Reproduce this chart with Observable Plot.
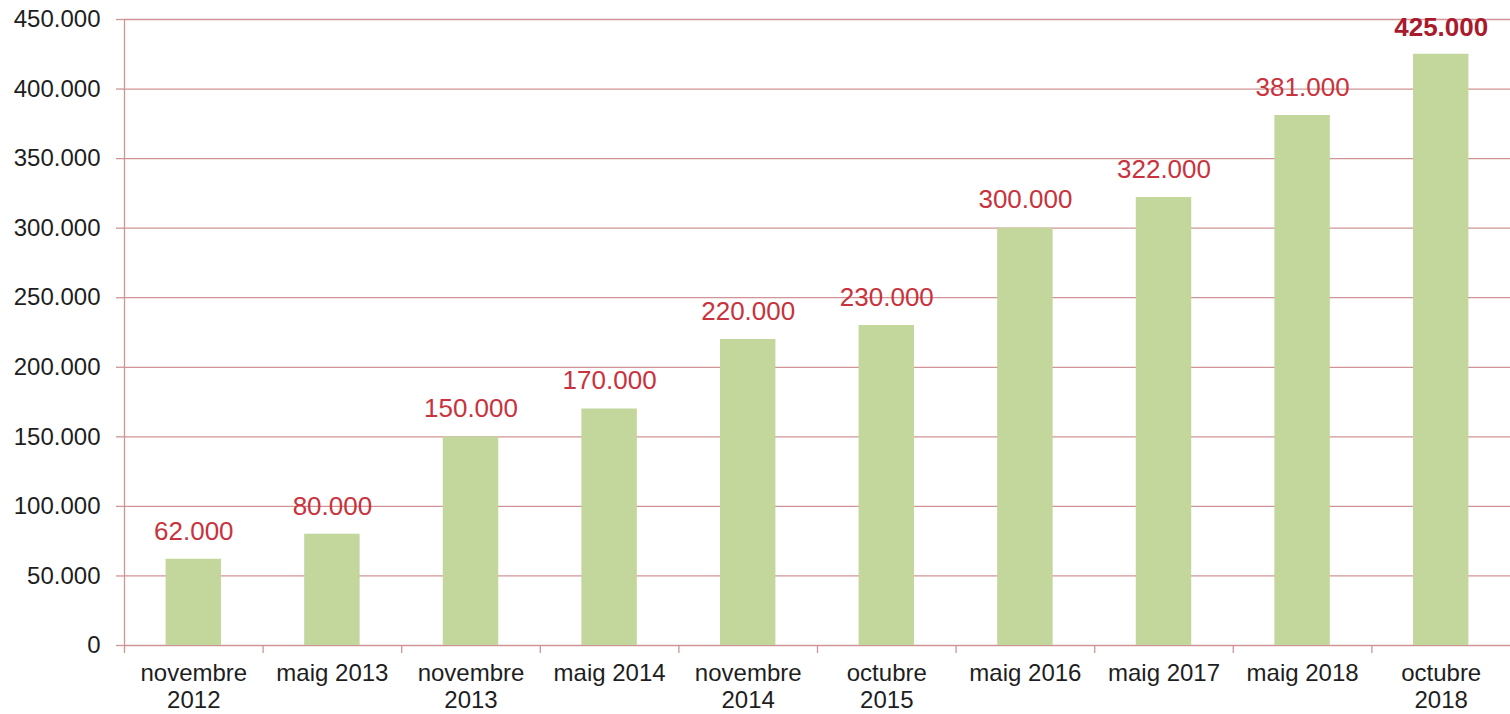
<!DOCTYPE html>
<html>
<head>
<meta charset="utf-8">
<script src="https://cdn.jsdelivr.net/npm/d3@7"></script>
<script src="https://cdn.jsdelivr.net/npm/@observablehq/plot@0.6"></script>
<style>
  html, body { margin: 0; padding: 0; background: #fff; }
  #chart svg { display: block; }
</style>
</head>
<body>
<div id="chart"></div>
<script>
const categories = ["novembre\n2012", "maig 2013", "novembre\n2013", "maig 2014", "novembre\n2014", "octubre\n2015", "maig 2016", "maig 2017", "maig 2018", "octubre\n2018"];
const values = [62000, 80000, 150000, 170000, 220000, 230000, 300000, 322000, 381000, 425000];
const yTicks = [0, 50000, 100000, 150000, 200000, 250000, 300000, 350000, 400000, 450000];

const data = categories.map((c, i) => ({cat: c, value: values[i], last: i === categories.length - 1}));
const loc = d3.formatLocale({decimal: ",", thousands: ".", grouping: [3], currency: ["", ""]});
const fmt = loc.format(",");

const width = 1510, height = 714;
const marginLeft = 124, marginRight = 0;
const half = (width - marginLeft - marginRight) / categories.length / 2;
const gridColor = "#d09496";
const font = "'Liberation Sans', Arial, sans-serif";

const chart = Plot.plot({
  width, height,
  marginLeft, marginRight, marginTop: 19, marginBottom: 69,
  style: {fontFamily: font, background: "#fff"},
  x: {domain: categories, paddingInner: 0.6, paddingOuter: 0.3, align: 0.5, round: false, label: null},
  y: {domain: [0, 450000], label: null},
  marks: [
    Plot.ruleY(yTicks, {stroke: gridColor, strokeWidth: 1.3}),
    Plot.axisY({ticks: yTicks, tickSize: 8, tickPadding: 16, tickFormat: fmt, stroke: gridColor, strokeWidth: 1.3, fontSize: 24, fill: "#1e1e1e", label: null}),
    Plot.ruleX([categories[0]], {dx: -half, y1: 0, y2: 450000, stroke: gridColor, strokeWidth: 1.3}),
    Plot.axisX({ticks: categories, tickSize: 8, tickFormat: () => "", dx: -half, stroke: gridColor, strokeWidth: 1.3, label: null}),
    Plot.axisX({ticks: categories, tickSize: 0, tickPadding: 17, fontSize: 24, fill: "#1e1e1e", lineHeight: 1.1, label: null}),
    Plot.barY(data, {x: "cat", y: "value", fill: "#c3d69b"}),
    Plot.text(data.filter(d => !d.last), {x: "cat", y: "value", text: d => fmt(d.value), dy: -28, fontSize: 26, fill: "#c8333d"}),
    Plot.text(data.filter(d => d.last), {x: "cat", y: "value", text: d => fmt(d.value), dy: -27, fontSize: 26, fontWeight: "bold", fill: "#a81a2c"})
  ]
});
document.getElementById("chart").appendChild(chart);
</script>
</body>
</html>
